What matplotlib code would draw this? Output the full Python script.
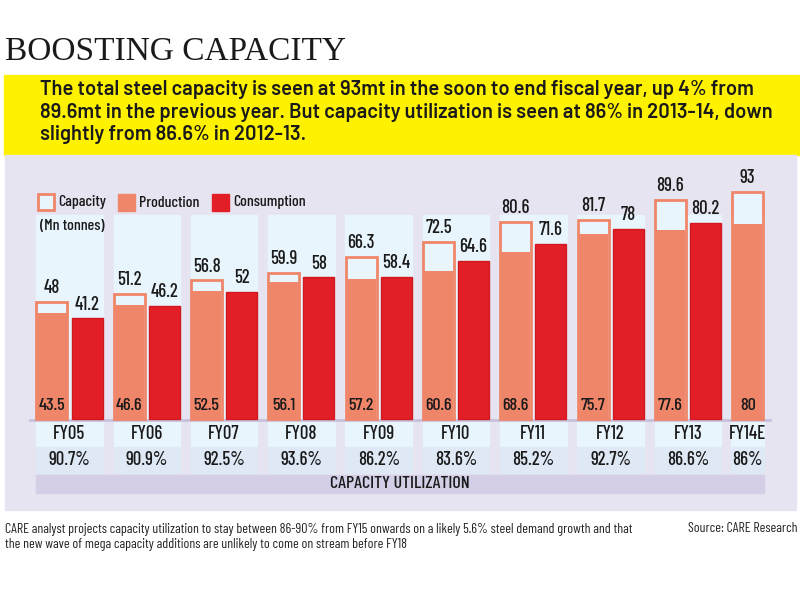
import matplotlib
matplotlib.use('Agg')
import matplotlib.pyplot as plt
from matplotlib.patches import Rectangle

# data
years = ['FY05', 'FY06', 'FY07', 'FY08', 'FY09', 'FY10', 'FY11', 'FY12', 'FY13', 'FY14E']
capacity = [48, 51.2, 56.8, 59.9, 66.3, 72.5, 80.6, 81.7, 89.6, 93]
production = [43.5, 46.6, 52.5, 56.1, 57.2, 60.6, 68.6, 75.7, 77.6, 80]
consumption = [41.2, 46.2, 52, 58, 58.4, 64.6, 71.6, 78, 80.2]
utilization = ['90.7%', '90.9%', '92.5%', '93.6%', '86.2%', '83.6%', '85.2%', '92.7%', '86.6%', '86%']

title = 'BOOSTING CAPACITY'
intro = ('The total steel capacity is seen at 93mt in the soon to end fiscal year, up 4% from\n'
         '89.6mt in the previous year. But capacity utilization is seen at 86% in 2013-14, down\n'
         'slightly from 86.6% in 2012-13.')
note = ('CARE analyst projects capacity utilization to stay between 86-90% from FY15 onwards on a likely 5.6% steel demand growth and that\n'
        'the new wave of mega capacity additions are unlikely to come on stream before FY18')
source = 'Source: CARE Research'

cond = ['Barlow Condensed', 'Archivo Narrow', 'Liberation Sans']
wide = ['Barlow', 'Liberation Sans']

PROD = '#ef866a'
CONS = '#e21f26'
LAV = '#e7e4f1'
LBLUE = '#e9f5fc'
ROW2 = '#dfe9f5'
BAND = '#d4cfe6'
INK = '#1a1a1a'

fig = plt.figure(figsize=(8, 6), dpi=100)

# layout layer in pixel coordinates
deco = fig.add_axes([0, 0, 1, 1])
deco.set_xlim(0, 800)
deco.set_ylim(600, 0)
deco.axis('off')

deco.text(5, 52, title, family='Liberation Serif', fontsize=24, va='center', ha='left', color=INK)
deco.add_patch(Rectangle((4, 75), 796, 80, color='#fff200', zorder=0))
deco.text(40, 112, intro, family=wide, fontsize=14.5, weight=600, va='center', ha='left',
          linespacing=1.22, color=INK)
deco.add_patch(Rectangle((5, 155), 791, 355, color=LAV, zorder=0))
deco.text(5, 537, note, family=cond, fontsize=10, va='center', ha='left', linespacing=1.25, color='#222')
deco.text(797, 528, source, family=cond, fontsize=10, va='center', ha='right', color='#222')

# chart layer: group spacing 77.3px, baseline at y=419px, 2.44px per tonne
ax = fig.add_axes([0, 0, 1, 1])
ax.patch.set_alpha(0)
ax.axis('off')
sp = 77.3
x0 = 69.5
ppu = 2.44
base = 419
ax.set_xlim(-x0 / sp, (800 - x0) / sp)
ax.set_ylim(-(600 - base) / ppu, base / ppu)

def py(p):
    return (base - p) / ppu

n = len(years)
idx = list(range(n))
off = 0.227
w = 0.40
cap_x = [i - off for i in idx]
con_x = [i + off for i in idx[:len(consumption)]]

# column backgrounds and table cells
for i in idx:
    if i < len(consumption):
        l, r = i - 0.43, i + 0.43
    else:
        l, r = i - off - w / 2 - 0.01, i - off + w / 2 + 0.01
    ax.add_patch(Rectangle((l, py(420)), r - l, py(215) - py(420), color=LBLUE, zorder=0))
    ax.add_patch(Rectangle((l, py(447)), r - l, py(421) - py(447), color=LBLUE, zorder=0))
    ax.add_patch(Rectangle((l, py(473)), r - l, py(447) - py(473), color=ROW2, zorder=0))
    ax.text((l + r) / 2, py(434), years[i], family=cond, fontsize=13.5, weight=500,
            ha='center', va='center', color=INK)
    ax.text((l + r) / 2, py(460), utilization[i], family=cond, fontsize=13.5, weight=500,
            ha='center', va='center', color=INK)

band_l = -off - w / 2 - 0.01
band_r = n - 1 - off + w / 2 + 0.01
ax.add_patch(Rectangle((band_l, py(493)), band_r - band_l, py(475) - py(493), color=BAND, zorder=0))
ax.text((band_l + band_r) / 2, py(484), 'CAPACITY UTILIZATION', family=cond, fontsize=13, weight=500,
        ha='center', va='center', color=INK)
ax.plot([-0.51, 9.06], [py(420), py(420)], color='#c7c1dd', lw=2, zorder=1)

# bars
ax.bar(cap_x, capacity, width=w, color=LBLUE, edgecolor=PROD, linewidth=2, zorder=2)
ax.bar(cap_x, production, width=w - 0.02, color=PROD, linewidth=0, zorder=3)
ax.bar(con_x, consumption, width=w, color=CONS, edgecolor='#d01820', linewidth=1, zorder=2)

for x, c, p in zip(cap_x, capacity, production):
    ax.text(x, c + 2, f'{c:g}', family=cond, fontsize=13.5, weight=500, ha='center', va='bottom', color=INK, zorder=4)
    ax.text(x, py(405), f'{p:g}', family=cond, fontsize=13, weight=500, ha='center', va='center', color=INK, zorder=4)
for x, c in zip(con_x, consumption):
    ax.text(x, c + 2, f'{c:g}', family=cond, fontsize=13.5, weight=500, ha='center', va='bottom', color=INK, zorder=4)

# legend, drawn over the column backgrounds
t = deco.transData
lk = dict(family=cond, fontsize=11.5, weight=500, va='center', ha='left', color=INK, transform=t, zorder=5)
ax.add_patch(Rectangle((38, 194), 16, 16, facecolor=LBLUE, edgecolor=PROD, lw=2, transform=t, zorder=5))
ax.text(58, 202, 'Capacity', **lk)
ax.text(40, 226, '(Mn tonnes)', **lk)
ax.add_patch(Rectangle((118, 194), 17, 17, facecolor=PROD, edgecolor=PROD, lw=1, transform=t, zorder=5))
ax.text(139, 203, 'Production', **lk)
ax.add_patch(Rectangle((212, 194), 17, 17, facecolor=CONS, edgecolor=CONS, lw=1, transform=t, zorder=5))
ax.text(233, 202, 'Consumption', **lk)

fig.savefig('out.png', dpi=100)
